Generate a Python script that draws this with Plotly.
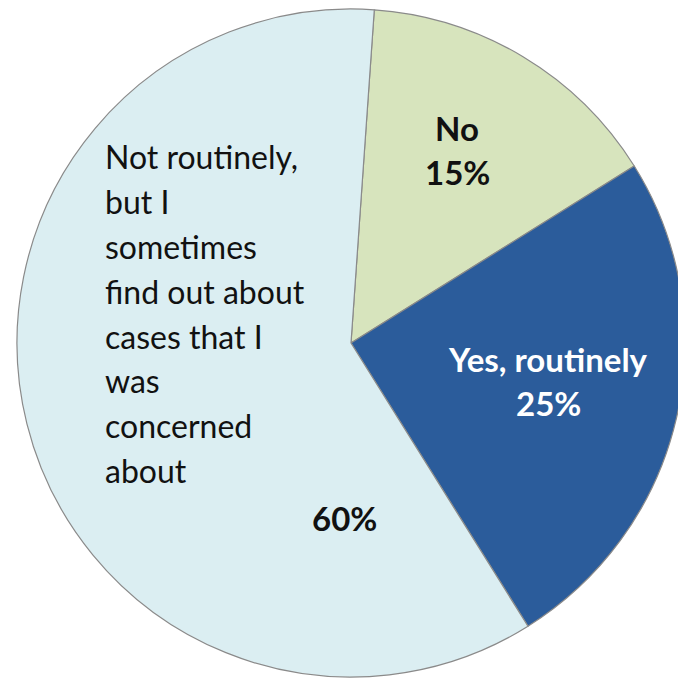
import plotly.graph_objects as go

# ---- data ----
categories = ["No", "Yes, routinely",
              "Not routinely, but I sometimes find out about cases that I was concerned about"]
values = [15, 25, 60]
# wrapped lines for the long label (as in the original)
long_label_lines = ["Not routinely,", "but I", "sometimes", "find out about",
                    "cases that I", "was", "concerned", "about"]

# ---- styles ----
colors = ["#D7E4BD", "#2B5C9B", "#DBEEF2"]
text_colors = ["#111111", "#FFFFFF", "#111111"]
FONT = "Lato"
FS = 32
FS_BOLD = 33

W, H = 692, 679
L, R, T, B = 17, 7, 9, 2
PW, PH = W - L - R, H - T - B


def px2paper(x, y):
    return (x - L) / PW, 1 - (y - T) / PH


fig = go.Figure(go.Pie(
    labels=categories,
    values=values,
    sort=False,
    direction="clockwise",
    rotation=4,
    marker=dict(colors=colors, line=dict(color="#8a8a8a", width=1.2)),
    textinfo="none",
    hoverinfo="label+percent",
    showlegend=False,
))

annotations = []


def add_text(text, x, y, color, bold, anchor="center"):
    xp, yp = px2paper(x, y)
    annotations.append(dict(
        x=xp, y=yp, xref="paper", yref="paper", text=text, showarrow=False,
        xanchor=anchor, yanchor="middle",
        font=dict(family=FONT, size=FS_BOLD if bold else FS, color=color,
                  weight="bold" if bold else "normal"),
    ))


pct = [f"{v}%" for v in values]

# "No" slice
add_text(f"<b>{categories[0]}</b>", 457, 128, text_colors[0], True)
add_text(f"<b>{pct[0]}</b>", 457, 172, text_colors[0], True)
# "Yes, routinely" slice
add_text(f"<b>{categories[1]}</b>", 548, 359, text_colors[1], True)
add_text(f"<b>{pct[1]}</b>", 548, 403, text_colors[1], True)
# "Not routinely ..." slice
y0, dy = 156.5, 44.9
for i, line in enumerate(long_label_lines):
    add_text(line, 103, y0 + i * dy, text_colors[2], False, anchor="left")
add_text(f"<b>{pct[2]}</b>", 344, 518, text_colors[2], True)

fig.update_layout(
    width=W, height=H, autosize=False,
    margin=dict(l=L, r=R, t=T, b=B, pad=0),
    paper_bgcolor="white", plot_bgcolor="white",
    annotations=annotations,
)

fig.write_html("out.html",
               post_script="document.body.style.overflow='hidden';document.documentElement.style.overflow='hidden';")
